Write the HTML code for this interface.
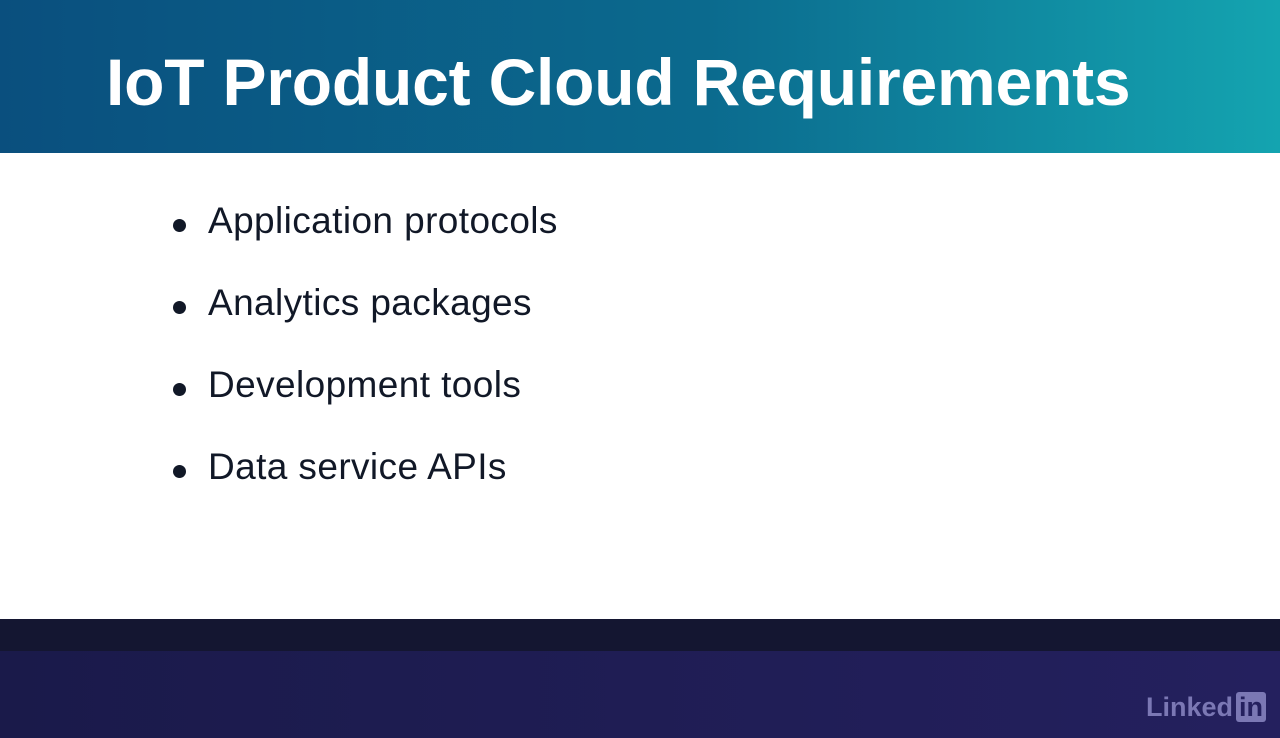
<!DOCTYPE html>
<html><head><style>
body{margin:0;width:1280px;height:738px;overflow:hidden;background:#fff;font-family:"Liberation Sans",sans-serif;position:relative}
.hdr{position:absolute;left:0;top:0;width:1280px;height:153px;background:linear-gradient(90deg,#0a4f7e 0%,#0b6a8e 55%,#14a4b0 100%)}
.hdr h1{position:absolute;left:106px;top:42px;margin:0;color:#fff;font-size:66px;font-weight:bold;letter-spacing:-0.2px;line-height:80px}
ul{position:absolute;left:0;top:0;margin:0;padding:0;list-style:none}
li{position:absolute;left:208px;font-size:37px;letter-spacing:0.4px;color:#111827;white-space:nowrap}
li:before{content:"";position:absolute;left:-35px;top:19px;width:13px;height:13px;border-radius:50%;background:#111827}
.b1{position:absolute;left:0;top:619px;width:1280px;height:32px;background:#141631}
.b2{position:absolute;left:0;top:651px;width:1280px;height:87px;background:linear-gradient(90deg,#1a1a4a,#24205e)}
.logo{position:absolute;left:1146px;top:692px;color:#7b78b4;font-size:27px;font-weight:bold}
.logo span{display:inline-block;background:#7b78b4;color:#24205e;border-radius:3px;padding:0 3px;margin-left:3px;line-height:30px}
</style></head><body>
<div class="hdr"><h1>IoT Product Cloud Requirements</h1></div>
<ul>
<li style="top:200px">Application protocols</li>
<li style="top:282px">Analytics packages</li>
<li style="top:364px">Development tools</li>
<li style="top:446px">Data service APIs</li>
</ul>
<div class="b1"></div><div class="b2"></div>
<div class="logo">Linked<span>in</span></div>
</body></html>
